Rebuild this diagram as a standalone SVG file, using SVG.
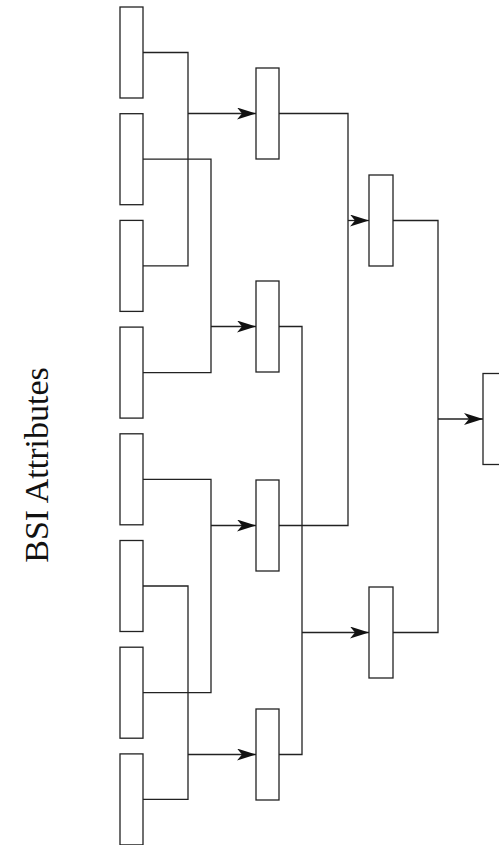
<svg xmlns="http://www.w3.org/2000/svg" width="499" height="845" viewBox="0 0 499 845">
  <style>
    .box { fill: #ffffff; stroke: #222222; stroke-width: 1.3; }
    .wire { fill: none; stroke: #222222; stroke-width: 1.3; }
    .title { font-family: "Liberation Serif", "Times New Roman", serif; font-size: 34px; fill: #111111; }
  </style>
  <defs>
    <marker id="arrow" markerUnits="userSpaceOnUse" markerWidth="20" markerHeight="14" refX="19" refY="6" orient="auto">
      <path d="M0,0 L19,6 L0,12 L5,6 Z" fill="#111111"/>
    </marker>
  </defs>
  <rect width="499" height="845" fill="#ffffff"/>

  <text class="title" transform="translate(48,465) rotate(-90)" text-anchor="middle">BSI Attributes</text>

  <g id="connectors">
    <!-- leaves into first merge level -->
    <path class="wire" d="M143,52.5 H188 V265.9 H143"/>
    <path class="wire" d="M188,113.5 H256" marker-end="url(#arrow)"/>
    <path class="wire" d="M143,159.2 H211 V372.6 H143"/>
    <path class="wire" d="M211,326.5 H256" marker-end="url(#arrow)"/>
    <path class="wire" d="M143,479.3 H211 V692.7 H143"/>
    <path class="wire" d="M211,525.5 H256" marker-end="url(#arrow)"/>
    <path class="wire" d="M143,586 H188 V799.4 H143"/>
    <path class="wire" d="M188,754.5 H256" marker-end="url(#arrow)"/>
    <!-- second merge level -->
    <path class="wire" d="M279,113.5 H348 V525.5 H279"/>
    <path class="wire" d="M348,220.5 H369" marker-end="url(#arrow)"/>
    <path class="wire" d="M279,326.5 H302 V754.5 H279"/>
    <path class="wire" d="M302,632.5 H369" marker-end="url(#arrow)"/>
    <!-- final merge -->
    <path class="wire" d="M393,220.5 H438 V632.5 H393"/>
    <path class="wire" d="M438,419 H483" marker-end="url(#arrow)"/>
  </g>

  <g id="leaf1"><rect class="box" x="120" y="7" width="23" height="91"/></g>
  <g id="leaf2"><rect class="box" x="120" y="113.7" width="23" height="91"/></g>
  <g id="leaf3"><rect class="box" x="120" y="220.4" width="23" height="91"/></g>
  <g id="leaf4"><rect class="box" x="120" y="327.1" width="23" height="91"/></g>
  <g id="leaf5"><rect class="box" x="120" y="433.8" width="23" height="91"/></g>
  <g id="leaf6"><rect class="box" x="120" y="540.5" width="23" height="91"/></g>
  <g id="leaf7"><rect class="box" x="120" y="647.2" width="23" height="91"/></g>
  <g id="leaf8"><rect class="box" x="120" y="753.9" width="23" height="91"/></g>

  <g id="merge1"><rect class="box" x="256" y="68" width="23" height="91"/></g>
  <g id="merge2"><rect class="box" x="256" y="281" width="23" height="91"/></g>
  <g id="merge3"><rect class="box" x="256" y="480" width="23" height="91"/></g>
  <g id="merge4"><rect class="box" x="256" y="709" width="23" height="91"/></g>

  <g id="combine1"><rect class="box" x="369" y="175" width="24" height="91"/></g>
  <g id="combine2"><rect class="box" x="369" y="587" width="24" height="91"/></g>

  <g id="root"><rect class="box" x="483" y="373.5" width="30" height="91"/></g>
</svg>
